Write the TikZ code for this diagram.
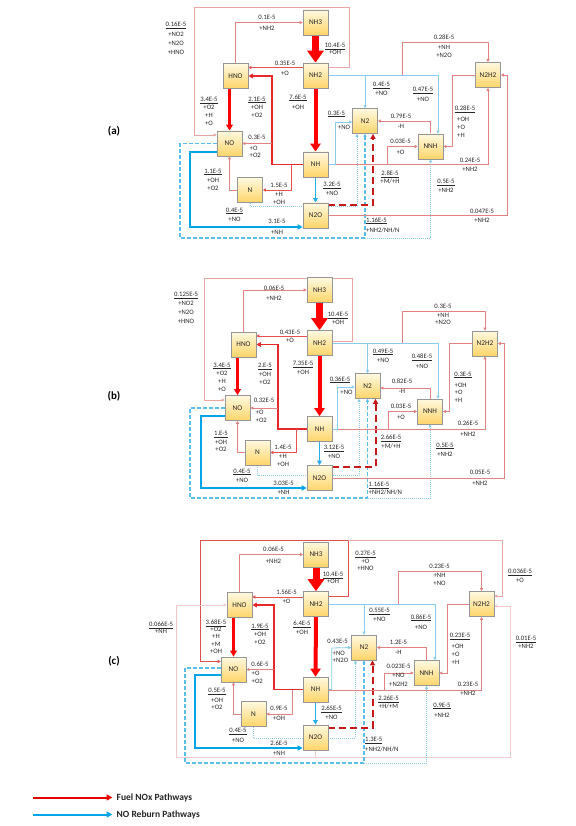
\documentclass[tikz,border=0pt]{standalone}
\usepackage{fontspec}
\setmainfont{Carlito}
\usetikzlibrary{arrows.meta}
\pgfdeclarelayer{bg}
\pgfsetlayers{bg,main}
\newcommand\uln[1]{\underline{#1}}
\definecolor{boxtop}{RGB}{255,249,225}
\definecolor{boxbot}{RGB}{255,213,105}
\definecolor{boxgray}{RGB}{150,150,150}
\definecolor{fuel}{RGB}{255,0,0}
\definecolor{redm}{RGB}{230,40,40}
\definecolor{redt}{RGB}{232,80,80}
\definecolor{redo}{RGB}{222,80,80}
\definecolor{pinkc}{RGB}{226,130,130}
\definecolor{pinkl}{RGB}{236,165,165}
\definecolor{pinkf}{RGB}{244,200,200}
\definecolor{dred}{RGB}{200,25,25}
\definecolor{cyanb}{RGB}{0,165,232}
\definecolor{cyanm}{RGB}{40,175,235}
\definecolor{cyanl}{RGB}{135,205,235}
\definecolor{cyand}{RGB}{90,190,235}
\definecolor{txt}{RGB}{40,40,40}
\tikzset{
 box/.style={draw=boxgray, line width=0.6pt, minimum width=25pt, minimum height=25pt, inner sep=0pt, top color=boxtop, bottom color=boxbot, font=\fontsize{7.3}{8}\selectfont, text=txt},
 lab/.style={font=\fontsize{6.7}{9}\selectfont, align=center, inner sep=0pt, text=txt},
 labl/.style={lab, align=left},
 plbl/.style={font=\fontsize{11}{13}\selectfont\bfseries, inner sep=0pt},
 legt/.style={font=\fontsize{9.5}{11}\selectfont\bfseries, inner sep=0pt, anchor=west, text=black!85},
 tp/.style={-{Triangle[length=3pt,width=3pt]}},
 pk/.style={draw=pinkc, line width=0.8pt, tp},
 pkl/.style={draw=pinkl, line width=0.8pt, tp},
 pkf/.style={draw=pinkf, line width=0.8pt, tp},
 rd1/.style={draw=redt, line width=0.9pt, tp},
 rdo/.style={draw=redo, line width=0.9pt, tp},
 rdm/.style={draw=redm, line width=1.7pt, -{Triangle[length=4.5pt,width=4.5pt]}},
 rdk/.style={draw=fuel, line width=2.6pt, -{Triangle[length=6pt,width=6.5pt]}},
 rdTb/.style={draw=fuel, line width=4pt, -{Triangle[length=8pt,width=10pt]}},
 rdTa/.style={draw=fuel, line width=7pt, -{Triangle[length=12pt,width=16pt]}},
 rddash/.style={draw=dred, line width=2pt, dash pattern=on 7pt off 4pt, -{Triangle[length=5pt,width=5pt]}},
 cyk/.style={draw=cyanb, line width=2pt, -{Triangle[length=5pt,width=5pt]}},
 cym/.style={draw=cyanm, line width=1.4pt, -{Triangle[length=4.5pt,width=4.5pt]}},
 cyl/.style={draw=cyanl, line width=0.8pt, tp},
 cydot/.style={draw=cyanl, line width=0.8pt, dash pattern=on 1pt off 1pt, tp},
 cydash/.style={draw=cyand, line width=1.2pt, dash pattern=on 4pt off 2pt, tp},
 cydashk/.style={draw=cyand, line width=1.7pt, dash pattern=on 4pt off 2pt, tp},
 legr/.style={draw=fuel!90!black, line width=2pt, -{Triangle[length=6pt,width=6pt]}},
 legc/.style={draw=cyanb, line width=2pt, -{Triangle[length=6pt,width=6pt]}},
}
\begin{document}
\begin{tikzpicture}[x=1pt,y=-1pt]
\useasboundingbox (0,0) rectangle (575,826);
% ================= panel (a) =================
\node[box] (aNH3) at (315.5,22.5) {NH3};
\node[box] (aNH2) at (315.5,75.5) {NH2};
\node[box] (aHNO) at (235.5,76) {HNO};
\node[box] (aNO) at (229.5,143.5) {NO};
\node[box] (aN) at (250,190) {N};
\node[box] (aNH) at (315.5,164.5) {NH};
\node[box] (aN2O) at (315.5,215.5) {N2O};
\node[box] (aN2) at (365,121) {N2};
\node[box] (aNNH) at (430.5,146.5) {NNH};
\node[box] (aN2H2) at (488,75) {N2H2};
\node[plbl] (aLab) at (114,131) {(a)};
\node[lab] at (176,38.5) {\uln{0.16E-5}\\[0.3pt]+NO2\\[0.3pt]+N2O\\[0.3pt]+HNO};
\node[lab] at (267,22.5) {0.1E-5\\[2pt]+NH2};
\node[lab] at (335,49) {\uln{10.4E-5}\\[-1.5pt]+OH};
\node[lab] at (285,68) {0.35E-5\\[1pt]+O};
\node[lab] at (209,111.5) {\uln{3.4E-5}\\[-1pt]+O2\\[-1pt]+H\\[-1pt]+O};
\node[lab] at (257,107) {\uln{2.1E-5}\\[-1pt]+OH\\[-1pt]+O2};
\node[lab] at (298,102) {\uln{7.6E-5}\\[1pt]+OH};
\node[lab] at (336.5,114) {\uln{0.3E-5}};
\node[lab] at (344,127.5) {+NO};
\node[lab] at (257,137.5) {0.3E-5};
\node[labl, anchor=west] at (249.5,152) {+O\\[-1.5pt]+O2};
\node[lab] at (213,179.5) {\uln{1.1E-5}\\+OH\\[-1pt]+O2};
\node[lab] at (279,194) {1.5E-5\\[0.5pt]+H\\[-1pt]+OH};
\node[lab] at (332,189) {\uln{3.2E-5}\\[-0.5pt]+NO};
\node[lab] at (234.5,214.5) {\uln{0.4E-5}\\+NO};
\node[lab] at (277,227) {3.1E-5\\[1.5pt]+NH};
\node[lab] at (390,177.5) {\uln{2.8E-5}\\[-0.5pt]+M/+H};
\node[lab] at (446,186) {\uln{0.5E-5}\\+NH2};
\node[lab] at (470,164.5) {0.24E-5\\+NH2};
\node[lab] at (482,215.5) {0.047E-5\\+NH2};
\node[labl, anchor=west] at (366,225) {\uln{1.16E-5}\\[1pt]+NH2/NH/N};
\node[lab] at (400.5,147) {0.03E-5\\[1.5pt]+O};
\node[lab] at (401,121) {0.79E-5\\[1pt]-H};
\node[lab] at (465,109.3) {\uln{0.28E-5}};
\node[labl, anchor=west] at (457,127.5) {+OH\\[-1pt]+O\\[-1pt]+H};
\node[lab] at (444,46) {0.28E-5\\[1.5pt]+NH\\[-1pt]+N2O};
\node[lab] at (381.5,89) {\uln{0.4E-5}\\+NO};
\node[lab] at (423,94.5) {\uln{0.47E-5}\\[1pt]+NO};
% ================= panel (b) =================
\node[box] (bNH3) at (319.5,290) {NH3};
\node[box] (bNH2) at (319.5,343) {NH2};
\node[box] (bHNO) at (243.5,344.5) {HNO};
\node[box] (bNO) at (237.5,408) {NO};
\node[box] (bN) at (257.5,452.5) {N};
\node[box] (bNH) at (319.5,429) {NH};
\node[box] (bN2O) at (319.5,478) {N2O};
\node[box] (bN2) at (367.5,386) {N2};
\node[box] (bNNH) at (430,411.5) {NNH};
\node[box] (bN2H2) at (485,343.5) {N2H2};
\node[plbl] (bLab) at (114,396) {(b)};
\node[lab] at (186,308) {\uln{0.125E-5}\\+NO2\\+N2O\\+HNO};
\node[lab] at (274,293) {0.06E-5\\[1pt]+NH2};
\node[lab] at (338,318.5) {\uln{10.4E-5}\\[-1.5pt]+OH};
\node[lab] at (290,336.5) {0.43E-5\\[-0.5pt]+O};
\node[lab] at (222,377) {\uln{3.4E-5}\\[-0.5pt]+O2\\[-1pt]+H\\[-1.5pt]+O};
\node[lab] at (265,374) {\uln{2.E-5}\\[-0.5pt]+OH\\[-0.5pt]+O2};
\node[lab] at (303,368) {\uln{7.35E-5}\\+OH};
\node[lab] at (340,380) {\uln{0.36E-5}};
\node[lab] at (346.5,392.5) {+NO};
\node[lab] at (264,400) {0.32E-5};
\node[labl, anchor=west] at (255.5,416) {+O\\[-1.3pt]+O2};
\node[lab] at (221,441.5) {\uln{1.E-5}\\+OH\\[-1.5pt]+O2};
\node[lab] at (283,456) {1.4E-5\\+H\\[-1pt]+OH};
\node[lab] at (334,452) {\uln{3.12E-5}\\[-0.5pt]+NO};
\node[lab] at (242,475.5) {\uln{0.4E-5}\\+NO};
\node[lab] at (283.5,488) {3.03E-5\\[0.5pt]+NH};
\node[lab] at (391,442) {\uln{2.66E-5}\\+M/+H};
\node[lab] at (445,449.5) {\uln{0.5E-5}\\+NH2};
\node[lab] at (468,429) {0.26E-5\\[2pt]+NH2};
\node[lab] at (480,478) {0.05E-5\\[2.5pt]+NH2};
\node[labl, anchor=west] at (368.5,488.5) {\uln{1.16E-5}\\[-0.5pt]+NH2/NH/N};
\node[lab] at (401,412) {0.03E-5\\[1.5pt]+O};
\node[lab] at (402,386.5) {0.82E-5\\[1pt]-H};
\node[lab] at (463,375) {\uln{0.3E-5}};
\node[labl, anchor=west] at (454.5,393) {+OH\\[-1.5pt]+O\\[-1pt]+H};
\node[lab] at (443,314.5) {0.3E-5\\+NH\\[-1.5pt]+N2O};
\node[lab] at (383,355.5) {\uln{0.49E-5}\\+NO};
\node[lab] at (422,361) {\uln{0.48E-5}\\[1pt]+NO};
% ================= panel (c) =================
\node[box] (cNH3) at (316,554.5) {NH3};
\node[box] (cNH2) at (316,604) {NH2};
\node[box] (cHNO) at (239.5,605) {HNO};
\node[box] (cNO) at (233.5,669.5) {NO};
\node[box] (cN) at (253.5,714) {N};
\node[box] (cNH) at (315.5,689.5) {NH};
\node[box] (cN2O) at (315.5,737.5) {N2O};
\node[box] (cN2) at (364,647.5) {N2};
\node[box] (cNNH) at (426.5,673) {NNH};
\node[box] (cN2H2) at (481.5,604) {N2H2};
\node[plbl] (cLab) at (114,661) {(c)};
\node[lab] at (161,627.5) {\uln{0.066E-5}\\[-2pt]+NH};
\node[lab] at (273.5,555) {0.06E-5\\[2.5pt]+NH2};
\node[lab] at (333,578) {\uln{10.4E-5}\\[-1.5pt]+OH};
\node[lab] at (365.5,561) {\uln{0.27E-5}\\[-1pt]+O\\[-2pt]+HNO};
\node[lab] at (286.5,597) {1.56E-5\\[-0.5pt]+O};
\node[lab] at (216,636.5) {\uln{3.68E-5}\\[-2pt]+O2\\[-1.5pt]+H\\[-1.5pt]+M\\[-2pt]+OH};
\node[lab] at (260,634) {\uln{1.9E-5}\\[-0.5pt]+OH\\[-1.5pt]+O2};
\node[lab] at (302,628) {\uln{6.4E-5}\\[0.5pt]+OH};
\node[lab] at (337.5,641.7) {0.43E-5};
\node[labl, anchor=west] at (332.5,657) {+NO\\[-1.5pt]+N2O};
\node[lab] at (260,664) {0.6E-5};
\node[labl, anchor=west] at (251.5,677.5) {+O\\[-1pt]+O2};
\node[lab] at (217,699) {\uln{0.5E-5}\\[1pt]+OH\\[-1.5pt]+O2};
\node[lab] at (279,713) {0.9E-5\\[1pt]+OH};
\node[lab] at (331.5,713) {\uln{2.65E-5}\\+NO};
\node[lab] at (238,735.5) {\uln{0.4E-5}\\[1pt]+NO};
\node[lab] at (279,748) {2.6E-5\\[1pt]+NH};
\node[lab] at (388.5,702.5) {\uln{2.26E-5}\\[-0.5pt]+H/+M};
\node[lab] at (442,710) {\uln{0.9E-5}\\[1pt]+NH2};
\node[lab] at (468,689) {0.23E-5\\+NH2};
\node[labl, anchor=west] at (365,744.5) {\uln{1.3E-5}\\[0.5pt]+NH2/NH/N};
\node[lab] at (398.5,675.5) {0.023E-5\\+NO\\[-0.5pt]+N2H2};
\node[lab] at (398.5,647.5) {1.2E-5\\[1pt]-H};
\node[lab] at (460,636.7) {\uln{0.23E-5}};
\node[labl, anchor=west] at (451.5,654.5) {+OH\\[-1.5pt]+O\\[-0.5pt]+H};
\node[lab] at (439.5,575) {0.23E-5\\+NH\\[-1pt]+NO};
\node[lab] at (379.5,615) {\uln{0.55E-5}\\+NO};
\node[lab] at (421,622) {\uln{0.86E-5}\\[1.5pt]+NO};
\node[lab] at (520,576) {\uln{0.036E-5}\\+O};
\node[lab] at (526,642.5) {\uln{0.01E-5}\\[-1pt]+NH2};
% ================= legend =================
\node[legt] (lgT) at (116.5,797.5) {Fuel NOx Pathways};
\node[legt] (lgU) at (116.5,814.5) {NO Reburn Pathways};
\coordinate (lgA) at (33,797.5);
\coordinate (lgB) at (33,814.5);
% ================= connectors =================
\begin{pgfonlayer}{bg}
\fill[white] (0,0) rectangle (575,826);
% ---- (a)
\draw[pkl] ([yshift=8pt]aNH2.east) -| (349,7) -| (194,135) -- ([yshift=8.5pt]aNO.west);
\draw[pk] (aHNO.north) |- (aNH3.west);
\draw[rd1] ([yshift=8pt]aNH2.west) -- ([yshift=8.5pt]aHNO.east);
\draw[rdm] (aNH.west) -| ([xshift=24pt]aHNO.east) -- (aHNO.east);
\coordinate (aJ1) at (272,143.5);
\draw[pk] (aJ1) -- (aNO.east);
\draw[rdk] (aHNO.south -| aNO.north) -- (aNO.north);
\draw[pk] (aN.west) -| (aNO.south);
\draw[rd1] ([xshift=-11pt]aNH.west) |- (aN.east);
\draw[rdTb] (aNH2.south) -- (aNH.north);
\draw[rdTa] (aNH3.south) -- (aNH2.north);
\draw[cym] (aNH.south) -- (aN2O.north);
\draw[cyk] ([yshift=-8.5pt]aNO.west) -| (190,227) -- ([yshift=-11.5pt]aN2O.west);
\draw[cydot] (aN.south) |- (357,206) -- ([xshift=-8pt]aN2.south);
\draw[cydash] (aNO.west) -| (180,238) -| (aN2.south);
\coordinate (aJ2) at (365,238);
\draw[cydot] (aJ2) -| (aNNH.south);
\draw[rddash] ([yshift=10.5pt]aN2O.east) -| ([xshift=8pt]aN2.south);
\draw[pk] (aN2O.east) -| ([xshift=7pt]aN2H2.east) -- (aN2H2.east);
\draw[pk] (aNH2.east) -| (402,42) -| (aN2H2.north);
\draw[pk] (aNH.east) -| (aN2H2.south);
\coordinate (aJ3) at (387,164.5);
\draw[pk] (aJ3) |- (aNNH.west);
\draw[pk] (aNNH.north) |- (aN2.east);
\draw[pk] (aN2H2.west) -| ([xshift=9pt]aNNH.east) -- (aNNH.east);
\draw[cyl] (aNH2.east) -| ([xshift=7.5pt]aNNH.north);
\coordinate (aJ4) at (365,75.5);
\draw[cyl] (aJ4) -- (aN2.north);
\draw[cyl] (aNH.east) -| (335,122) -- ([yshift=-1pt]aN2.west);
% ---- (b)
\draw[pkl] ([yshift=2pt]bNH2.east) -| (352.7,278) -| (204,400) -- ([yshift=8pt]bNO.west);
\draw[pk] (bHNO.north) |- (bNH3.west);
\draw[rd1] ([yshift=7pt]bNH2.west) -- ([yshift=8.5pt]bHNO.east);
\draw[rdm] (bNH.west) -| ([xshift=22pt]bHNO.east) -- (bHNO.east);
\coordinate (bJ1) at (278,408);
\draw[pk] (bJ1) -- (bNO.east);
\draw[rdk] (bHNO.south -| bNO.north) -- (bNO.north);
\draw[pk] (bN.west) -| (bNO.south);
\draw[rd1] ([xshift=-10.5pt]bNH.west) |- (bN.east);
\draw[rdTb] (bNH2.south) -- (bNH.north);
\draw[rdTa] (bNH3.south) -- (bNH2.north);
\draw[cym] (bNH.south) -- (bN2O.north);
\draw[cyk] ([yshift=-8pt]bNO.west) -| (200.7,488) -- ([yshift=-10pt]bN2O.west);
\draw[cydot] (bN.south) |- (359,475.7) -- ([xshift=-8.5pt]bN2.south);
\draw[cydash] (bNO.west) -| (190,498) -| (bN2.south);
\coordinate (bJ2) at (367.5,498);
\draw[cydot] (bJ2) -| (bNNH.south);
\draw[rddash] ([yshift=11pt]bN2O.east) -| ([xshift=8pt]bN2.south);
\draw[pk] (bN2O.east) -| ([xshift=6.5pt]bN2H2.east) -- (bN2H2.east);
\draw[pk] (bNH2.east) -| (402.7,311.7) -| (bN2H2.north);
\draw[pk] (bNH.east) -| (bN2H2.south);
\coordinate (bJ3) at (388,429);
\draw[pk] (bJ3) |- (bNNH.west);
\draw[pk] (bNNH.north) |- ([yshift=-2pt]bN2.east);
\draw[pk] (bN2H2.west) -| ([xshift=7pt]bNNH.east) -- (bNNH.east);
\draw[cyl] (bNH2.east) -| ([xshift=8pt]bNNH.north);
\coordinate (bJ4) at (367.5,343);
\draw[cyl] (bJ4) -- (bN2.north);
\draw[cyl] (bNH.east) -| (337,387) -- ([yshift=-1pt]bN2.west);
% ---- (c)
\draw[rdo] ([yshift=8pt]cNH2.east) -| (348,540) -| (200.7,661.5) -- ([yshift=8pt]cNO.west);
\coordinate (cJ5) at (348,540);
\draw[pkl] (cJ5) -| ([xshift=8.5pt,yshift=8pt]cN2H2.east) -- ([yshift=8pt]cN2H2.east);
\draw[pkf] (cN2O.south) |- (176.7,757) |- (cHNO.west);
\draw[pkf] (cN2O.south) |- (510,757) |- ([yshift=-2pt]cN2H2.east);
\draw[pk] (cHNO.north) |- (cNH3.west);
\draw[rd1] ([yshift=7pt]cNH2.west) -- ([yshift=8pt]cHNO.east);
\draw[rdm] (cNH.west) -| ([xshift=22pt]cHNO.east) -- (cHNO.east);
\coordinate (cJ1) at (274,669.5);
\draw[pk] (cJ1) -- (cNO.east);
\draw[rdk] (cHNO.south -| cNO.north) -- (cNO.north);
\draw[pk] (cN.west) -| (cNO.south);
\draw[pk] ([xshift=-10.5pt]cNH.west) |- (cN.east);
\draw[rdTb] (cNH2.south) -- (cNH.north);
\draw[rdTa] (cNH3.south) -- (cNH2.north);
\draw[cym] (cNH.south) -- (cN2O.north);
\draw[cyk] ([yshift=-5.5pt]cNO.west) -| (195,748) -- ([yshift=-10.5pt]cN2O.west);
\draw[cydot] (cN.south) |- (355.5,738) -- ([xshift=-8.5pt]cN2.south);
\draw[cydashk] ([yshift=1.5pt]cNO.west) -| (185,763) -| (cN2.south);
\coordinate (cJ2) at (364,763);
\draw[cydot] (cJ2) -| (cNNH.south);
\draw[rddash] ([yshift=9.5pt]cN2O.east) -| ([xshift=8.5pt]cN2.south);
\draw[pk] (cNH2.east) -| (398,571.7) -| (cN2H2.north);
\draw[pk] ([yshift=-0.5pt]cNH.east) -| (cN2H2.south);
\coordinate (cJ3) at (384,690);
\draw[pk] (cJ3) |- (cNNH.west);
\draw[pk] (cNNH.north) |- (cN2.east);
\draw[pk] (cN2H2.west) -| ([xshift=8.5pt]cNNH.east) -- (cNNH.east);
\draw[cyl] (cNH2.east) -| ([xshift=8.5pt]cNNH.north);
\coordinate (cJ4) at (364,604);
\draw[cyl] (cJ4) -- (cN2.north);
\draw[cyl] (cNH.east) -| (331.7,648) -- (cN2.west);
% ---- legend
\draw[legr] (lgA) -- ([xshift=-4pt]lgT.west);
\draw[legc] (lgB) -- ([xshift=-4pt]lgU.west);
\end{pgfonlayer}
\end{tikzpicture}
\end{document}
